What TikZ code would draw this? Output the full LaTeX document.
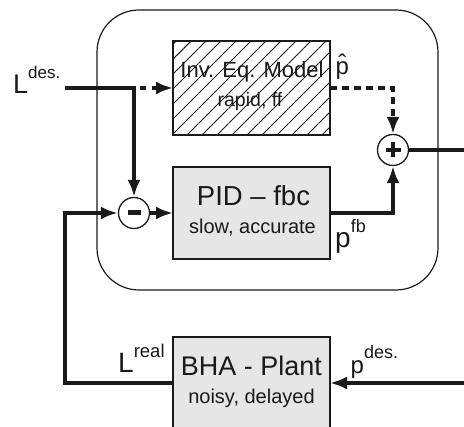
\documentclass[tikz,border=0pt]{standalone}
\usepackage{fontspec}
\setmainfont{Liberation Sans}
\usetikzlibrary{arrows.meta,patterns.meta}
\definecolor{ink}{HTML}{1A1A1A}
\definecolor{boxgray}{HTML}{E6E6E6}
\newcommand{\fs}[1]{\fontsize{#1}{#1}\selectfont}
\tikzset{
  blockbox/.style={draw=ink, line width=2.8pt, minimum width=157pt, inner sep=0pt, outer sep=0pt},
  sumc/.style={draw=ink, line width=1.3pt, circle, minimum size=31pt, inner sep=0pt, fill=white},
  sig/.style={draw=ink, line width=3.3pt},
  tip/.style={-{Latex[length=17pt,width=13pt]}},
  dshort/.style={dash pattern=on 6pt off 6pt, dash phase=6pt},
  dlong/.style={dash pattern=on 7pt off 5pt},
  txt/.style={text=ink, inner sep=0pt, anchor=base},
  lbl/.style={text=ink, inner sep=0pt, anchor=base west},
}
\begin{document}
\begin{tikzpicture}[x=1pt,y=-1pt]
\useasboundingbox (0,0) rectangle (464,427);
\clip (0,0) rectangle (464,427);
% controller frame
\draw[ink, line width=1.2pt, rounded corners=42pt] (97,10) rectangle (438,290);
% blocks
\node[blockbox, minimum height=94pt, fill=white,
      postaction={pattern={Lines[angle=45,distance=10.6pt,line width=0.9pt]}, pattern color=ink}]
      (inv) at (251.5,88) {};
\node[blockbox, minimum height=92pt, fill=boxgray] (pid) at (251.5,213) {};
\node[blockbox, minimum height=103pt, fill=boxgray] (plant) at (251.5,388.5) {};
% block texts
\node[txt] (invt1) at (252,78) {\fs{22}Inv. Eq. Model};
\node[txt] (invt2) at (250,107) {\fs{19.5}rapid, ff};
\node[txt] (pidt1) at (253.5,206) {\fs{27.5}PID – fbc};
\node[txt] (pidt2) at (252.5,234) {\fs{20}slow, accurate};
\node[txt] (plantt1) at (251.5,376) {\fs{27}BHA - Plant};
\node[txt] (plantt2) at (251.5,404) {\fs{20}noisy, delayed};
% summing junctions
\node[sumc] (minus) at (134,213) {};
\node[sumc] (plus) at (393,150) {};
\fill[ink] (minus.center) ++(-6.5,-2.5) rectangle ++(13,5);
\draw[ink, line width=3.8pt] (plus.center) ++(-7.5,0) -- ++(15,0);
\draw[ink, line width=3.8pt] (plus.center) ++(0,-7.5) -- ++(0,15);
% coordinates
\coordinate (ldes) at (65,88);
\coordinate (br) at (134,88);
\coordinate (outR) at (464,150);
\coordinate (inR) at (464,383);
\coordinate (fbc) at (65,383);
% connectors
\draw[sig, tip] (ldes) -| (minus.north);
\draw[sig, dshort, tip] (br) -- (inv.west);
\draw[sig, dlong, tip] (inv.east) -| (plus.north);
\draw[sig, tip] (pid.east) -| (plus.south);
\draw[sig, tip] (minus.east) -- (pid.west);
\draw[sig] (plus.east) -- (outR);
\draw[sig, tip] (inR) -- (inR -| plant.east);
\draw[sig, tip] (fbc -| plant.west) -- (fbc) |- (minus.west);
% signal labels
\node[lbl] (lDes) at (13,94) {\fs{27}L\raisebox{15pt}{\fs{17}des.}};
\node[lbl] (lReal) at (118,373) {\fs{28}L\raisebox{15pt}{\fs{18.5}real}};
\node[lbl] (pHat) at (335.5,75) {\fs{24}\ooalign{p\cr\hidewidth\raisebox{3pt}{\char"02C6}\hidewidth\cr}};
\node[lbl] (pFb) at (335,248) {\fs{28}p\raisebox{15pt}{\fs{18}fb}};
\node[lbl] (pDes) at (350.5,374) {\fs{24}p\raisebox{15pt}{\fs{18}des.}};
\end{tikzpicture}
\end{document}
